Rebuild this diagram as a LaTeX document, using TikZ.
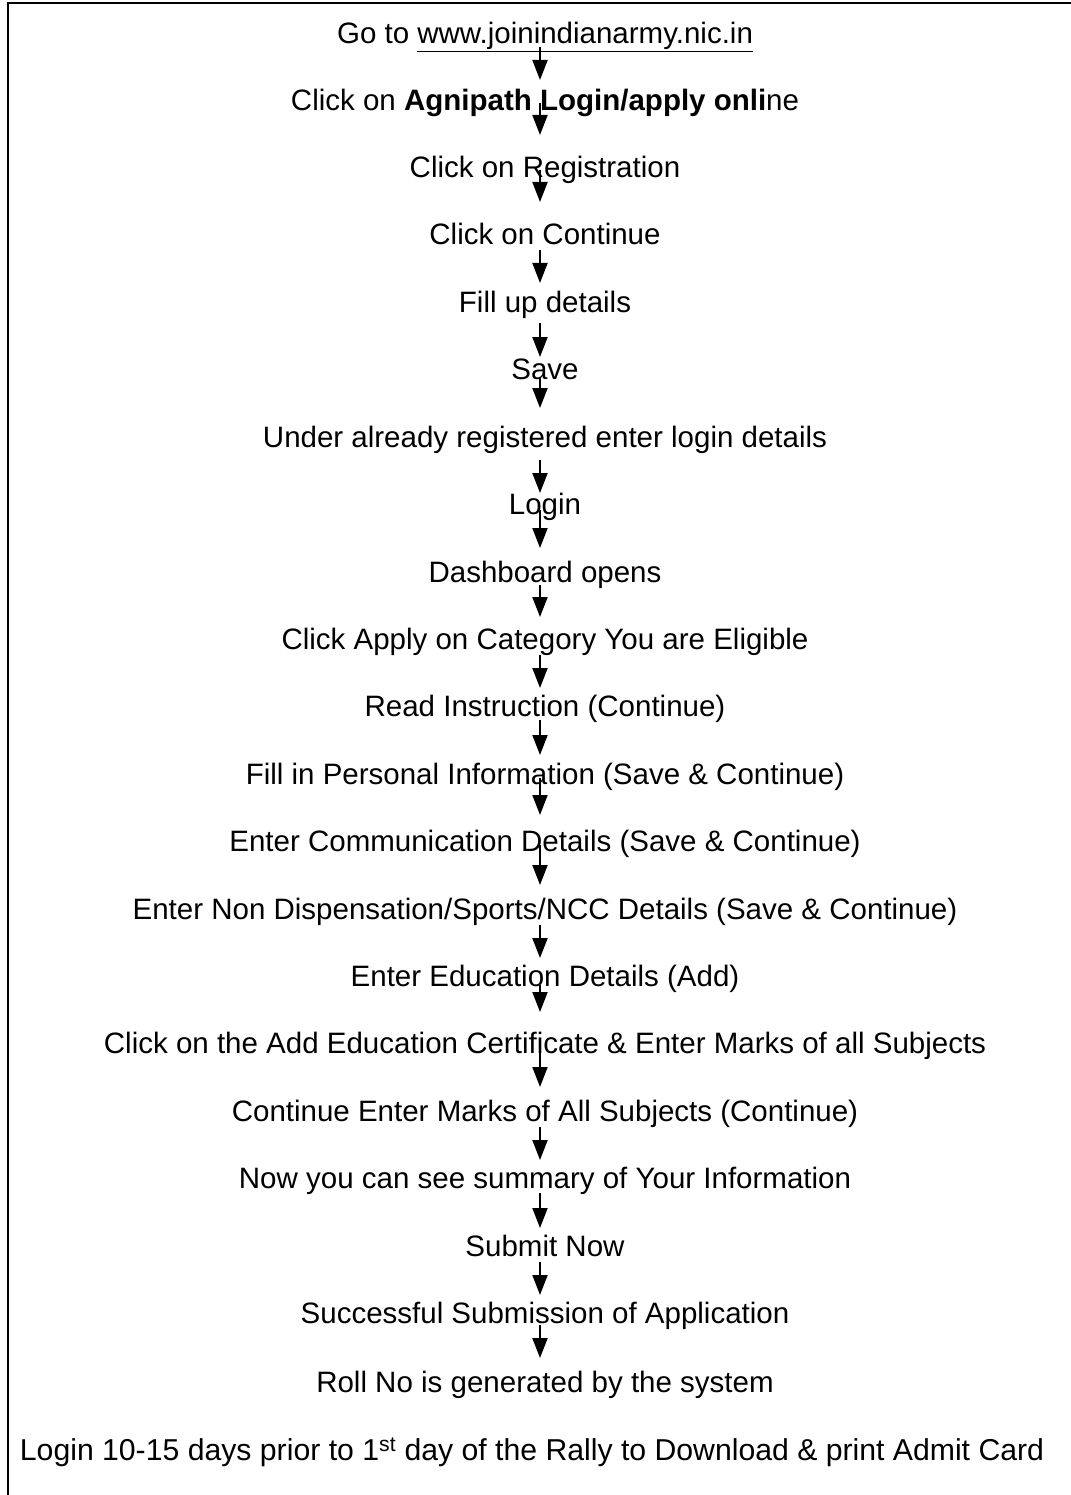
\documentclass[tikz,border=0pt]{standalone}
\usepackage{fontspec}
\setmainfont{Liberation Sans}
\usetikzlibrary{arrows.meta}
\begin{document}
\begin{tikzpicture}[x=1pt,y=-1pt,
  lbl/.style={anchor=base,inner sep=0pt,font=\fontsize{29.5}{34}\selectfont},
  arr/.style={line width=2pt,-{Triangle[width=15pt,length=20pt]}},
  frame/.style={line width=2pt,draw=black}]
\useasboundingbox (0,0) rectangle (1070,1495);
\draw[frame] (8,1500) -- (8,3) -- (1075,3);
\node[lbl] (n1) at (545,43.5) {Go to \underline{www.joinindianarmy.nic.in}};
\node[lbl] (n2) at (545,110.5) {Click on \textbf{Agnipath Login/apply onli}ne};
\node[lbl] (n3) at (545,177.5) {Click on Registration};
\node[lbl] (n4) at (545,244.5) {Click on Continue};
\node[lbl] (n5) at (545,312.5) {Fill up details};
\node[lbl] (n6) at (545,379.5) {Save};
\node[lbl] (n7) at (545,447.5) {Under already registered enter login details};
\node[lbl] (n8) at (545,514.5) {Login};
\node[lbl] (n9) at (545,582.5) {Dashboard opens};
\node[lbl] (n10) at (545,649.5) {Click Apply on Category You are Eligible};
\node[lbl] (n11) at (545,716.5) {Read Instruction (Continue)};
\node[lbl] (n12) at (545,784.5) {Fill in Personal Information (Save \& Continue)};
\node[lbl] (n13) at (545,851.5) {Enter Communication Details (Save \& Continue)};
\node[lbl] (n14) at (545,919.5) {Enter Non Dispensation/Sports/NCC Details (Save \& Continue)};
\node[lbl] (n15) at (545,986.5) {Enter Education Details (Add)};
\node[lbl] (n16) at (545,1053.5) {Click on the Add Education Certificate \& Enter Marks of all Subjects};
\node[lbl] (n17) at (545,1121.5) {Continue Enter Marks of All Subjects (Continue)};
\node[lbl] (n18) at (545,1188.5) {Now you can see summary of Your Information};
\node[lbl] (n19) at (545,1256.5) {Submit Now};
\node[lbl] (n20) at (545,1323.5) {Successful Submission of Application};
\node[lbl] (n21) at (545,1392.5) {Roll No is generated by the system};
\node[lbl,font=\fontsize{30.2}{35}\selectfont] (n22) at (532,1460.5) {Login 10-15 days prior to 1\textsuperscript{st} day of the Rally to Download \& print Admit Card};
\draw[arr] ([shift={(-5,3.5)}]n1.base) -- ([shift={(-5,-30.5)}]n2.base);
\draw[arr] ([shift={(-5,-7.5)}]n2.base) -- ([shift={(-5,-42.5)}]n3.base);
\draw[arr] ([shift={(-5,-7.5)}]n3.base) -- ([shift={(-5,-42.5)}]n4.base);
\draw[arr] ([shift={(-5,5.5)}]n4.base) -- ([shift={(-5,-29.5)}]n5.base);
\draw[arr] ([shift={(-5,10.5)}]n5.base) -- ([shift={(-5,-22.5)}]n6.base);
\draw[arr] ([shift={(-5,-2.5)}]n6.base) -- ([shift={(-5,-39.5)}]n7.base);
\draw[arr] ([shift={(-5,12.5)}]n7.base) -- ([shift={(-5,-21.5)}]n8.base);
\draw[arr] ([shift={(-5,-4.5)}]n8.base) -- ([shift={(-5,-34.5)}]n9.base);
\draw[arr] ([shift={(-5,2.5)}]n9.base) -- ([shift={(-5,-32.5)}]n10.base);
\draw[arr] ([shift={(-5,5.5)}]n10.base) -- ([shift={(-5,-28.5)}]n11.base);
\draw[arr] ([shift={(-5,3.5)}]n11.base) -- ([shift={(-5,-29.5)}]n12.base);
\draw[arr] ([shift={(-5,-6.5)}]n12.base) -- ([shift={(-5,-36.5)}]n13.base);
\draw[arr] ([shift={(-5,-6.5)}]n13.base) -- ([shift={(-5,-34.5)}]n14.base);
\draw[arr] ([shift={(-5,5.5)}]n14.base) -- ([shift={(-5,-28.5)}]n15.base);
\draw[arr] ([shift={(-5,-1.5)}]n15.base) -- ([shift={(-5,-41.5)}]n16.base);
\draw[arr] ([shift={(-5,-8.5)}]n16.base) -- ([shift={(-5,-34.5)}]n17.base);
\draw[arr] ([shift={(-5,5.5)}]n17.base) -- ([shift={(-5,-28.5)}]n18.base);
\draw[arr] ([shift={(-5,4.5)}]n18.base) -- ([shift={(-5,-28.5)}]n19.base);
\draw[arr] ([shift={(-5,5.5)}]n19.base) -- ([shift={(-5,-28.5)}]n20.base);
\draw[arr] ([shift={(-5,1.5)}]n20.base) -- ([shift={(-5,-34.5)}]n21.base);
\end{tikzpicture}
\end{document}
